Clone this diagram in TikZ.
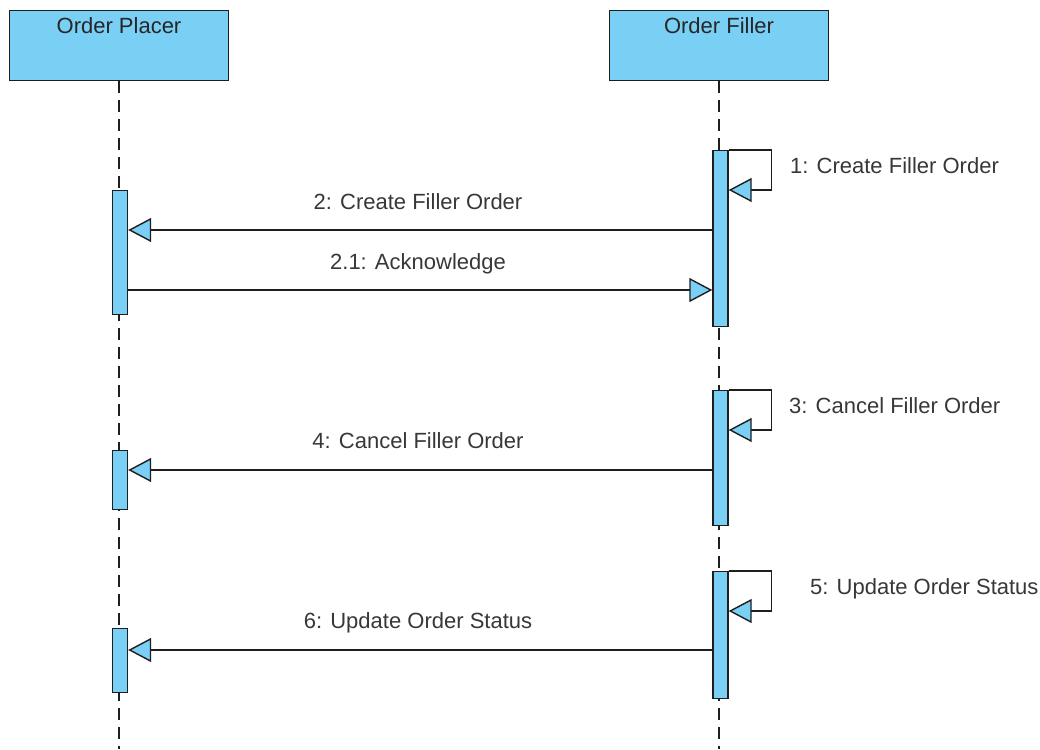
\documentclass[tikz,border=0pt]{standalone}
\usepackage{fontspec}
\setmainfont{Liberation Sans}
\usepackage{tikz}
\usetikzlibrary{arrows.meta,positioning}
\definecolor{actblue}{RGB}{122,207,245}
\definecolor{linegray}{RGB}{30,30,30}
\definecolor{textgray}{RGB}{55,55,55}

\begin{document}
\begin{tikzpicture}[x=1pt,y=-1pt,
  head/.style={rectangle,draw=linegray,fill=actblue,line width=1.4pt,minimum width=219pt,inner sep=0pt,text height=23pt,text depth=47pt,font=\fontsize{22}{26}\selectfont,text=black!85},
  bar/.style={rectangle,draw=linegray,fill=actblue,line width=1.4pt,minimum width=15pt,inner sep=0pt},
  life/.style={draw=linegray,line width=1.4pt,dash pattern=on 12pt off 7pt},
  msg/.style={draw=linegray,line width=1.4pt,-{Triangle[length=23pt,width=24pt,fill=actblue,line width=1.4pt]}},
  lbl/.style={font=\fontsize{22}{26}\selectfont,text=textgray,inner sep=0pt}]
  \useasboundingbox (0,0) rectangle (1040,749);

  % lifelines
  \node[head,anchor=north] (placer) at (119,10) {Order Placer};
  \node[head,anchor=north] (filler) at (719,10) {Order Filler};
  \draw[life] (placer.south) -- (placer.south |- 0,749);
  \draw[life] (filler.south) -- (filler.south |- 0,749);

  % activations
  \node[bar,anchor=north,minimum height=124pt] (p1) at (120,190) {};
  \node[bar,anchor=north,minimum height=59pt] (p2) at (120,450) {};
  \node[bar,anchor=north,minimum height=64pt] (p3) at (120,628) {};
  \node[bar,anchor=north,minimum height=176pt] (f1) at (720.5,150) {};
  \node[bar,anchor=north,minimum height=135pt] (f2) at (720.5,390) {};
  \node[bar,anchor=north,minimum height=127pt] (f3) at (720.5,571) {};

  % messages
  \draw[msg] (f1.north east) -| ++(43,40) -- ([yshift=-40pt]f1.north east);
  \draw[msg] (f1.west |- 0,230) -- (p1.east |- 0,230);
  \draw[msg] (p1.east |- 0,290) -- (f1.west |- 0,290);
  \draw[msg] (f2.north east) -| ++(43,40) -- ([yshift=-40pt]f2.north east);
  \draw[msg] (f2.west |- 0,470) -- (p2.east |- 0,470);
  \draw[msg] (f3.north east) -| ++(43,40) -- ([yshift=-40pt]f3.north east);
  \draw[msg] (f3.west |- 0,650) -- (p3.east |- 0,650);

  \node[lbl,anchor=base west] (l1) at (790,173) {1: Create Filler Order};
  \node[lbl,anchor=base] (l2) at (418,209) {2: Create Filler Order};
  \node[lbl,anchor=base] (l21) at (418,269) {2.1: Acknowledge};
  \node[lbl,anchor=base west] (l3) at (789,413) {3: Cancel Filler Order};
  \node[lbl,anchor=base] (l4) at (418,448) {4: Cancel Filler Order};
  \node[lbl,anchor=base west] (l5) at (810,594) {5: Update Order Status};
  \node[lbl,anchor=base] (l6) at (418,628) {6: Update Order Status};
\end{tikzpicture}
\end{document}
